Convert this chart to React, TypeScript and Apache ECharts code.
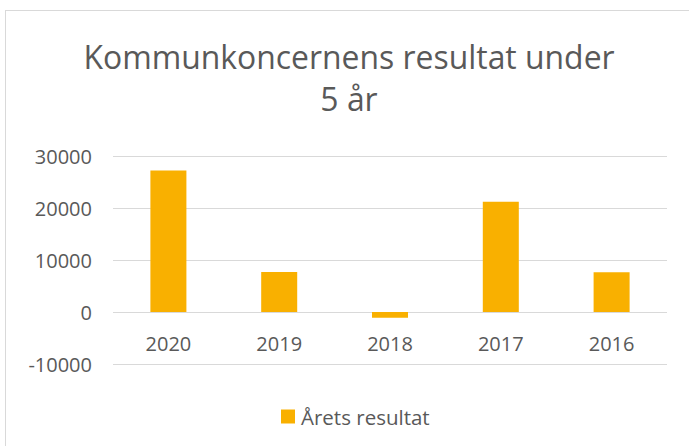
import React, { useEffect, useRef } from "react";
import * as echarts from "echarts";

const categories = ["2020", "2019", "2018", "2017", "2016"];
const values = [27200, 7700, -1100, 21200, 7650];
const seriesName = "Årets resultat";
const titleText = "Kommunkoncernens resultat under\n5 år";

export default function App() {
  const ref = useRef<HTMLDivElement>(null);
  useEffect(() => {
    const chart = echarts.init(ref.current!, null, { renderer: "svg" });
    const font = "'Open Sans', 'Noto Sans', sans-serif";
    chart.setOption({
      animation: false,
      backgroundColor: "#ffffff",
      graphic: [
        {
          type: "text",
          x: 349,
          y: 35,
          style: {
            text: titleText,
            fontFamily: font,
            fontSize: 31.9,
            fill: "#595959",
            lineHeight: 42,
            align: "center",
            verticalAlign: "top",
          },
        },
      ],
      legend: {
        data: [seriesName],
        top: 401,
        left: 276,
        icon: "rect",
        itemWidth: 14,
        itemHeight: 14,
        itemGap: 4,
        textStyle: { fontFamily: font, fontSize: 20.5, color: "#595959", padding: [0, 0, 0, 1] },
      },
      grid: { left: 113, right: 22, top: 156, bottom: 82, containLabel: false },
      xAxis: {
        type: "category",
        data: categories,
        offset: -52,
        axisLine: { show: false, onZero: false },
        axisTick: { show: false },
        axisLabel: { fontFamily: font, fontSize: 20, color: "#595959", margin: 21 },
      },
      yAxis: {
        type: "value",
        min: -10000,
        max: 30000,
        interval: 10000,
        axisLine: { show: false },
        axisTick: { show: false },
        splitLine: { lineStyle: { color: "#d9d9d9", width: 1 } },
        axisLabel: {
          fontFamily: font,
          fontSize: 20,
          color: "#595959",
          margin: 21,
          formatter: (v: number) => String(v),
        },
      },
      series: [
        {
          name: seriesName,
          type: "bar",
          data: values,
          barWidth: "32.5%",
          itemStyle: { color: "#f9b000" },
        },
      ],
    });
    return () => chart.dispose();
  }, []);
  return (
    <div
      style={{
        position: "fixed",
        left: 0,
        top: 0,
        width: 689,
        height: 446,
        background: "#fff",
      }}
    >
      <div
        ref={ref}
        style={{ position: "absolute", left: 0, top: 0, width: 689, height: 446 }}
      />
      <div
        style={{
          position: "absolute",
          left: 5,
          top: 10,
          width: 700,
          height: 460,
          border: "1px solid #d9d9d9",
          pointerEvents: "none",
        }}
      />
    </div>
  );
}
